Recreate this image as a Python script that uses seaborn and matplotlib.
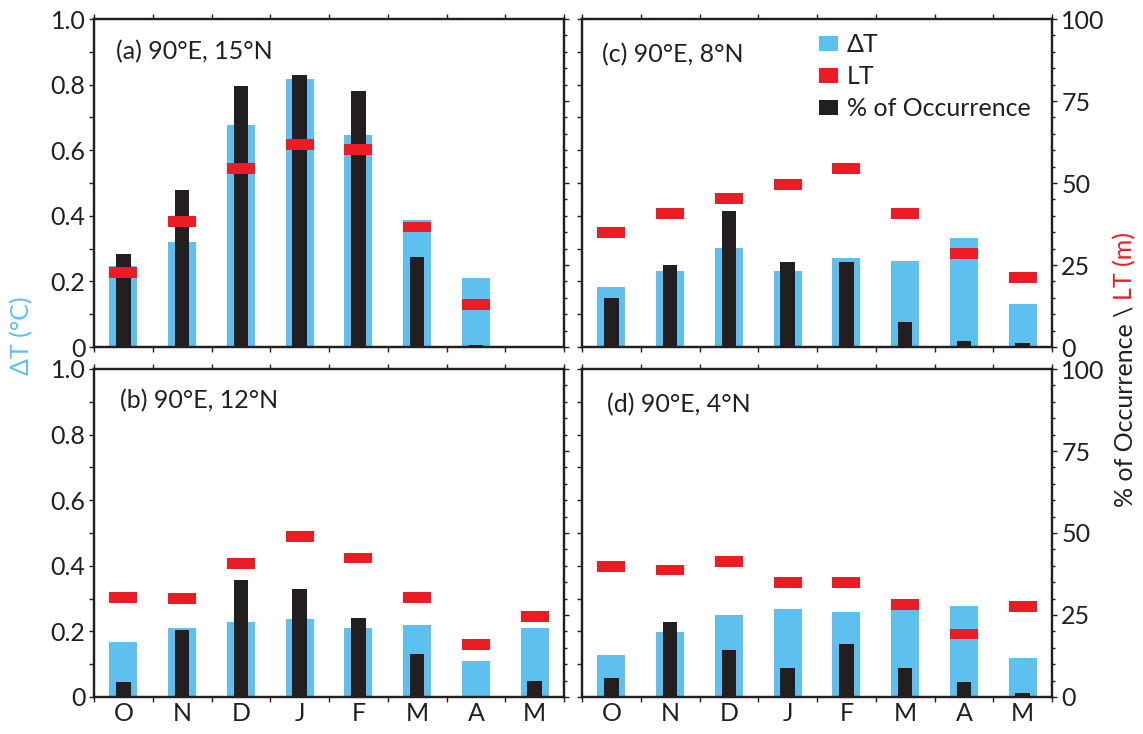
import numpy as np
import pandas as pd
import matplotlib
matplotlib.use("Agg")
import matplotlib.pyplot as plt
import seaborn as sns
from matplotlib.patches import Patch

# ---------------- data ----------------
months = ["O", "N", "D", "J", "F", "M", "A", "M"]

titles = {"a": "(a) 90°E, 15°N", "b": "(b) 90°E, 12°N",
          "c": "(c) 90°E, 8°N", "d": "(d) 90°E, 4°N"}

dT_a = [0.248, 0.321, 0.677, 0.817, 0.647, 0.388, 0.209, 0.0]
occ_a = [28.5, 48.0, 79.6, 83.0, 78.1, 27.3, 0.5, 0.0]
lt_a = [22.8, 38.3, 54.4, 61.7, 60.3, 36.6, 12.9, np.nan]

dT_b = [0.168, 0.211, 0.229, 0.238, 0.211, 0.220, 0.110, 0.211]
occ_b = [4.6, 20.4, 35.7, 33.0, 24.1, 13.1, 0.2, 4.9]
lt_b = [30.3, 30.1, 40.8, 48.9, 42.4, 30.4, 15.9, 24.5]

dT_c = [0.182, 0.231, 0.301, 0.231, 0.271, 0.261, 0.332, 0.130]
occ_c = [14.9, 24.9, 41.4, 25.8, 25.8, 7.5, 1.7, 1.1]
lt_c = [34.9, 40.7, 45.2, 49.5, 54.4, 40.8, 28.6, 21.1]

dT_d = [0.128, 0.198, 0.250, 0.269, 0.259, 0.270, 0.278, 0.119]
occ_d = [5.8, 22.9, 14.3, 8.9, 16.2, 8.9, 4.6, 1.2]
lt_d = [39.7, 38.7, 41.4, 34.9, 34.8, 28.3, 19.2, 27.5]

yticks_left = [0, 0.2, 0.4, 0.6, 0.8, 1.0]
yticklabels_left = ["0", "0.2", "0.4", "0.6", "0.8", "1.0"]
yticks_right = [0, 25, 50, 75, 100]

# ---------------- style ----------------
BLUE = "#5EC0EF"
RED = "#ED1C24"
BLACK = "#231F20"
FS = 18
plt.rcParams["font.family"] = ["Lato", "DejaVu Sans"]
plt.rcParams["axes.linewidth"] = 1.6
plt.rcParams["axes.edgecolor"] = BLACK
plt.rcParams["text.color"] = BLACK
plt.rcParams["xtick.color"] = BLACK
plt.rcParams["ytick.color"] = BLACK

W, H = 1143, 734
fig = plt.figure(figsize=(W / 100, H / 100), dpi=100)


def rect(l, t, r, b):
    return [l / W, (H - b) / H, (r - l) / W, (b - t) / H]


panels = {
    "a": (rect(94, 19, 564, 347), dT_a, occ_a, lt_a, False, True),
    "c": (rect(582, 19, 1052, 347), dT_c, occ_c, lt_c, False, False),
    "b": (rect(94, 369, 564, 697), dT_b, occ_b, lt_b, True, True),
    "d": (rect(582, 369, 1052, 697), dT_d, occ_d, lt_d, True, False),
}
title_pos = {"a": (0.046, 0.900), "c": (0.043, 0.892),
             "b": (0.055, 0.905), "d": (0.054, 0.890)}

axes2 = {}
for key, (pos, dT, occ, lt, bottom_row, left_col) in panels.items():
    ax = fig.add_axes(pos)
    ax2 = ax.twinx()
    df = pd.DataFrame({"pos": np.arange(8), "dT": dT, "occ": occ, "lt": lt})

    sns.barplot(data=df, x="pos", y="dT", ax=ax, color=BLUE, width=0.48,
                saturation=1, linewidth=0, errorbar=None)
    sns.barplot(data=df, x="pos", y="occ", ax=ax2, color=BLACK, width=0.25,
                saturation=1, linewidth=0, errorbar=None)
    m = df["lt"].notna()
    ax2.bar(df["pos"][m], 3.3, bottom=df["lt"][m] - 1.65, width=0.48,
            color=RED, linewidth=0, zorder=3)

    ax.set_xlim(-0.5, 7.5)
    ax.set_ylim(0, 1)
    ax2.set_ylim(0, 100)
    for a in (ax, ax2):
        a.set_xlabel("")
        a.set_ylabel("")
        for s in a.spines.values():
            s.set_linewidth(1.6)
            s.set_color(BLACK)

    # x ticks: boundaries as ticks, month names centred on bars
    ax.set_xticks(np.arange(-0.5, 8, 1))
    ax.set_xticklabels([])
    ax.set_xticks(np.arange(8), minor=True)
    ax.set_xticklabels(months if bottom_row else [""] * 8, minor=True)
    ax.tick_params(axis="x", which="major", direction="out", length=3.6,
                   width=1, top=True, bottom=True)
    ax.tick_params(axis="x", which="minor", length=0, labelsize=FS, pad=3.5)

    # left y axis
    ax.set_yticks(yticks_left)
    ax.set_yticklabels(yticklabels_left)
    ax.set_yticks(np.arange(0.1, 1.0, 0.2), minor=True)
    ax.tick_params(axis="y", which="both", direction="out", length=3.6,
                   width=1, labelsize=FS, pad=2.5, labelleft=left_col)

    # right y axis
    ax2.set_yticks(yticks_right)
    ax2.set_yticks(np.arange(0, 101, 5), minor=True)
    ax2.tick_params(axis="y", which="major", direction="out", length=3.6,
                    width=1, labelsize=FS, pad=3, labelright=not left_col)
    ax2.tick_params(axis="y", which="minor", direction="out", length=2.5,
                    width=1)

    tx, ty = title_pos[key]
    ax2.text(tx, ty, titles[key], transform=ax2.transAxes, fontsize=FS,
             ha="left", va="center", color=BLACK)
    axes2[key] = ax2

# legend in panel (c)
handles = [Patch(facecolor=BLUE, edgecolor="none"),
           Patch(facecolor=RED, edgecolor="none"),
           Patch(facecolor=BLACK, edgecolor="none")]
axes2["c"].legend(handles, ["ΔT", "LT", "% of Occurrence"], loc="upper left",
                  bbox_to_anchor=(0.504, 0.957), frameon=False, fontsize=FS,
                  handlelength=0.76, handleheight=0.52, handletextpad=0.36,
                  labelspacing=0.36, borderpad=0, borderaxespad=0)

# axis titles
fig.text(22 / W, 1 - 336 / H, "ΔT (°C)", rotation=90, color=BLUE,
         ha="center", va="center", fontsize=FS)
t1 = fig.text(1125 / W, (H - 507) / H, "% of Occurrence \\", rotation=90,
              color=BLACK, ha="center", va="bottom", fontsize=FS)
fig.canvas.draw()
bb = t1.get_window_extent(renderer=fig.canvas.get_renderer())
fig.text(1125 / W, (bb.y1 + 6) / (fig.dpi * fig.get_figheight()), "LT (m)",
         rotation=90, color=RED, ha="center", va="bottom", fontsize=FS)

fig.savefig("out.png", dpi=100)
